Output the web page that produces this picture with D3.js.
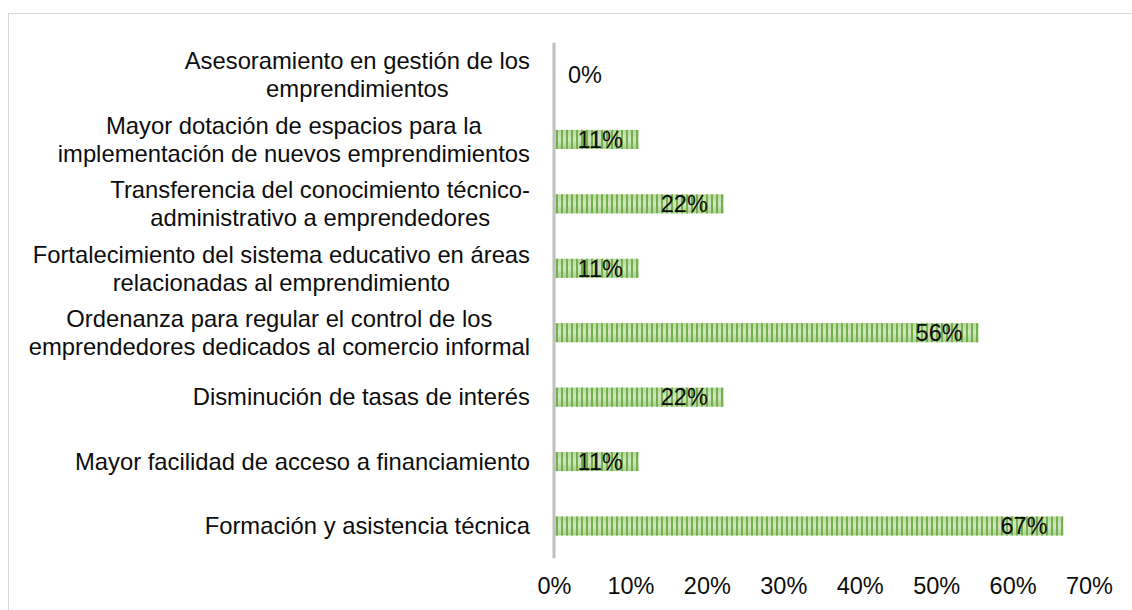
<!DOCTYPE html>
<html>
<head>
<meta charset="utf-8">
<script src="https://cdn.jsdelivr.net/npm/d3@7"></script>
<style>
  html, body { margin: 0; padding: 0; background: #fff; }
  svg { display: block; }
  text { font-family: "Liberation Sans", Arial, sans-serif; fill: #0d0d0d; }
</style>
</head>
<body>
<svg id="chart" width="1132" height="610"></svg>
<script>
// Categories, top to bottom, each split into its display lines
const categories = [
  ["Asesoramiento en gestión de los", "emprendimientos"],
  ["Mayor dotación de espacios para la", "implementación de nuevos emprendimientos"],
  ["Transferencia del conocimiento técnico-", "administrativo a emprendedores"],
  ["Fortalecimiento del sistema educativo en áreas", "relacionadas al emprendimiento"],
  ["Ordenanza para regular el control de los", "emprendedores dedicados al comercio informal"],
  ["Disminución de tasas de interés"],
  ["Mayor facilidad de acceso a financiamiento"],
  ["Formación y asistencia técnica"]
];
const values = [0, 0.1111, 0.2222, 0.1111, 0.5556, 0.2222, 0.1111, 0.6667];
const valueLabels = ["0%", "11%", "22%", "11%", "56%", "22%", "11%", "67%"];
const xTicks = [0, 0.1, 0.2, 0.3, 0.4, 0.5, 0.6, 0.7];
const xTickLabels = ["0%", "10%", "20%", "30%", "40%", "50%", "60%", "70%"];

const svg = d3.select("#chart");
const FS = 23.5;
const CAT_FS = 23.8;

// outer frame
svg.append("rect")
  .attr("x", 8.5).attr("y", 13.5)
  .attr("width", 1200).attr("height", 700)
  .attr("fill", "none").attr("stroke", "#d9d9d9").attr("stroke-width", 1);

const x = d3.scaleLinear().domain([0, 0.7]).range([554, 1089]);
const y = d3.scaleBand().domain(d3.range(categories.length)).range([42.8, 558.2]).paddingInner(0.705).paddingOuter(0.3525);

// pattern: light green with dark vertical stripes
const defs = svg.append("defs");
const grad = defs.append("linearGradient").attr("id", "g").attr("x1", 0).attr("y1", 0).attr("x2", 0).attr("y2", 1);
grad.append("stop").attr("offset", "0%").attr("stop-color", "#b5d99c");
grad.append("stop").attr("offset", "50%").attr("stop-color", "#d2e8c3");
grad.append("stop").attr("offset", "100%").attr("stop-color", "#a9d18e");
const pat = defs.append("pattern").attr("id", "stripes")
  .attr("patternUnits", "userSpaceOnUse").attr("width", 5).attr("height", 40)
  .attr("x", 556);
pat.append("rect").attr("x", 0).attr("y", 0).attr("width", 2).attr("height", 40).attr("fill", "#70ad47");

const bars = svg.append("g");
categories.forEach((c, i) => {
  if (values[i] <= 0) return;
  const x0 = x(0), w = x(values[i]) - x(0);
  bars.append("rect").attr("x", x0).attr("y", y(i)).attr("width", w).attr("height", y.bandwidth()).attr("fill", "url(#g)");
  bars.append("rect").attr("x", x0).attr("y", y(i)).attr("width", w).attr("height", y.bandwidth()).attr("fill", "url(#stripes)").attr("opacity", 0.95);
});

// vertical axis line
svg.append("line")
  .attr("x1", x(0)).attr("x2", x(0))
  .attr("y1", y.range()[0]).attr("y2", y.range()[1])
  .attr("stroke", "#bfbfbf").attr("stroke-width", 3);

// value labels
categories.forEach((c, i) => {
  const cy = y(i) + y.bandwidth() / 2;
  const t = svg.append("text")
    .attr("y", cy).attr("dy", "0.35em")
    .style("font-size", FS + "px")
    .text(valueLabels[i]);
  if (values[i] <= 0) {
    t.attr("x", x(0) + 14).attr("text-anchor", "start");
  } else {
    t.attr("x", x(values[i]) - 16).attr("text-anchor", "end");
  }
});

// category labels: block right-aligned, lines centered within block
const rightEdge = 530;
const lineH = 28;
categories.forEach((lines, i) => {
  const cy = y(i) + y.bandwidth() / 2;
  const g = svg.append("g");
  const texts = lines.map((ln, k) => g.append("text")
    .style("font-size", CAT_FS + "px")
    .attr("text-anchor", "middle")
    .attr("y", cy + (k - (lines.length - 1) / 2) * lineH)
    .attr("dy", "0.35em")
    .text(ln));
  const maxW = d3.max(texts, t => t.node().getComputedTextLength());
  texts.forEach(t => t.attr("x", rightEdge - maxW / 2));
});

// x-axis tick labels
const xAxis = d3.axisBottom(x).tickValues(xTicks).tickFormat((d, i) => xTickLabels[i]).tickSize(0).tickPadding(0);
const ax = svg.append("g").attr("transform", "translate(0,586)").call(xAxis);
ax.select(".domain").remove();
ax.selectAll("text").attr("dy", "0.35em").attr("y", 0).style("font-size", FS + "px").style("font-family", "'Liberation Sans', Arial, sans-serif").attr("fill", "#0d0d0d");
</script>
</body>
</html>
